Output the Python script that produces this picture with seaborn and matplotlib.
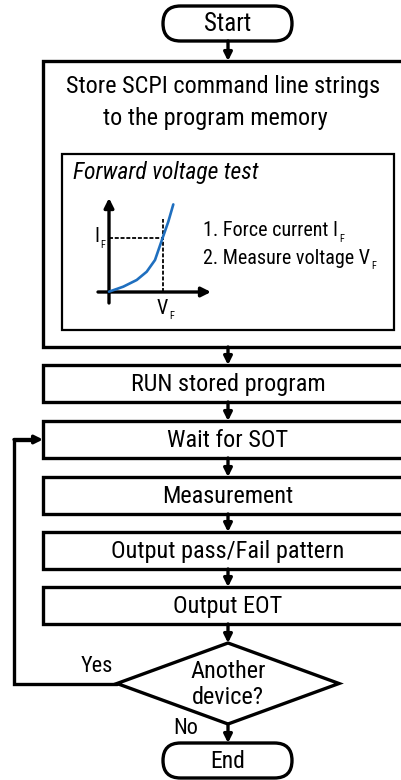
import warnings
warnings.filterwarnings('ignore')

import numpy as np
import matplotlib
matplotlib.use('Agg')
import matplotlib.pyplot as plt
import seaborn as sns
from matplotlib.patches import Rectangle, FancyBboxPatch, Polygon

# ============================================================
# CONTENT
# ============================================================

start_label = "Start"
end_label = "End"
header_lines = ["Store SCPI command line strings", "to the program memory"]
inset_title = "Forward voltage test"
instructions = ["1. Force current I", "2. Measure voltage V"]
subscript = "F"
step_labels = ["RUN stored program", "Wait for SOT", "Measurement",
               "Output pass/Fail pattern", "Output EOT"]
decision_lines = ["Another", "device?"]
yes_label = "Yes"
no_label = "No"

# I-V curve (normalised units)
v_vals = [0.0, 0.143, 0.277, 0.377, 0.460, 0.537, 0.593, 0.643]
i_vals = [0.0, 0.056, 0.130, 0.222, 0.352, 0.600, 0.778, 0.970]
v_f = 0.537
i_f = 0.600
v_guide_top = 0.808

# ============================================================
# LAYOUT (pixel units)
# ============================================================

W, H = 401, 780
CX = 228
BOX_L, BOX_R = 43, 440
step_tops = [365, 421, 477, 532, 587]
STEP_H = 37
MAIN_TOP, MAIN_BOT = 61, 347
LW = 2.4

sns.set_theme(style='white')
plt.rcParams['font.family'] = ['Roboto Condensed', 'Roboto', 'DejaVu Sans']
plt.rcParams['text.color'] = 'black'
FS = 17.5

fig = plt.figure(figsize=(W / 100, H / 100), dpi=100)
ax = fig.add_axes([0, 0, 1, 1])
ax.set_xlim(0, W)
ax.set_ylim(H, 0)
ax.axis('off')


def arrow(x0, y0, x1, y1, ms=12):
    ax.annotate('', xy=(x1, y1), xytext=(x0, y0),
                arrowprops=dict(arrowstyle='-|>', lw=LW, color='black',
                                mutation_scale=ms, shrinkA=0, shrinkB=0))


def terminal(top, label, fs):
    p = FancyBboxPatch((163, top), 129, 35,
                       boxstyle="round,pad=0,rounding_size=17.5",
                       fc='white', ec='black', lw=LW)
    ax.add_patch(p)
    ax.text(CX, top + 18, label, ha='center', va='center', fontsize=fs)


# Start / End
terminal(6, start_label, 18)
terminal(743, end_label, 17)
arrow(CX, 41, CX, MAIN_TOP)

# main storage box
ax.add_patch(Rectangle((BOX_L, MAIN_TOP), BOX_R - BOX_L, MAIN_BOT - MAIN_TOP,
                       fc='white', ec='black', lw=LW))
ax.text(223, 87, header_lines[0], ha='center', va='center', fontsize=FS)
ax.text(215, 118, header_lines[1], ha='center', va='center', fontsize=FS)

# inner box
ax.add_patch(Rectangle((62, 154), 332, 176, fc='white', ec='black', lw=1.6))
ax.text(73, 173, inset_title, ha='left', va='center', fontsize=17,
        style='italic')

# inset axes arrows
arrow(109, 303, 109, 198, ms=14)
arrow(98, 292, 211, 292, ms=14)

# I-V inset
ax_iv = fig.add_axes([109 / W, 1 - 291.7 / H, 100 / W, 90 / H])
ax_iv.set_xlim(0, 1)
ax_iv.set_ylim(0, 1)
ax_iv.axis('off')
ax_iv.patch.set_alpha(0)
ax_iv.plot([0, v_f], [i_f, i_f], ls=(0, (2.2, 1.0)), color='black', lw=1.3,
           clip_on=False)
ax_iv.plot([v_f, v_f], [0, v_guide_top], ls=(0, (2.2, 1.0)), color='black',
           lw=1.3, clip_on=False)
sns.lineplot(x=v_vals, y=i_vals, ax=ax_iv, color='#1f6fbf', lw=1.9,
             sort=False, estimator=None)
for ln in ax_iv.lines:
    ln.set_clip_on(False)

# labels with subscripts
fig.canvas.draw()
inv = ax.transData.inverted()


def with_sub(x, y, text, fs=14.5, ha='left'):
    t = ax.text(x, y, text, ha=ha, va='center', fontsize=fs)
    bb = t.get_window_extent(fig.canvas.get_renderer()).transformed(inv)
    ax.text(bb.x1 + 1, y + 8, subscript, ha='left', va='center', fontsize=7.5)


with_sub(203, 231, instructions[0])
with_sub(203, 258, instructions[1])
with_sub(94, 237, "I")
with_sub(157, 308, "V")

# step boxes
prev_bottom = MAIN_BOT
for label, top in zip(step_labels, step_tops):
    arrow(CX, prev_bottom, CX, top)
    ax.add_patch(Rectangle((BOX_L, top), BOX_R - BOX_L, STEP_H,
                           fc='white', ec='black', lw=LW))
    ax.text(CX, top + STEP_H / 2 + 1, label, ha='center', va='center',
            fontsize=FS)
    prev_bottom = top + STEP_H

# decision diamond
D_TOP, D_BOT, D_L, D_R = 643, 724, 117, 339
D_MID = (D_TOP + D_BOT) / 2
arrow(CX, prev_bottom, CX, D_TOP)
ax.add_patch(Polygon([(CX, D_TOP), (D_R, D_MID), (CX, D_BOT), (D_L, D_MID)],
                     closed=True, fc='white', ec='black', lw=LW))
ax.text(CX, 672, decision_lines[0], ha='center', va='center', fontsize=FS)
ax.text(CX, 698, decision_lines[1], ha='center', va='center', fontsize=FS)

# Yes loop back to "Wait for SOT"
loop_y = step_tops[1] + STEP_H / 2
ax.plot([D_L, 14, 14, 30], [D_MID, D_MID, loop_y, loop_y], color='black',
        lw=LW, solid_joinstyle='miter')
arrow(14, loop_y, BOX_L, loop_y)
ax.text(97, 667, yes_label, ha='center', va='center', fontsize=16)

# No to End
arrow(CX, D_BOT, CX, 743)
ax.text(186, 729, no_label, ha='center', va='center', fontsize=16)

fig.savefig('out.png', dpi=100)
